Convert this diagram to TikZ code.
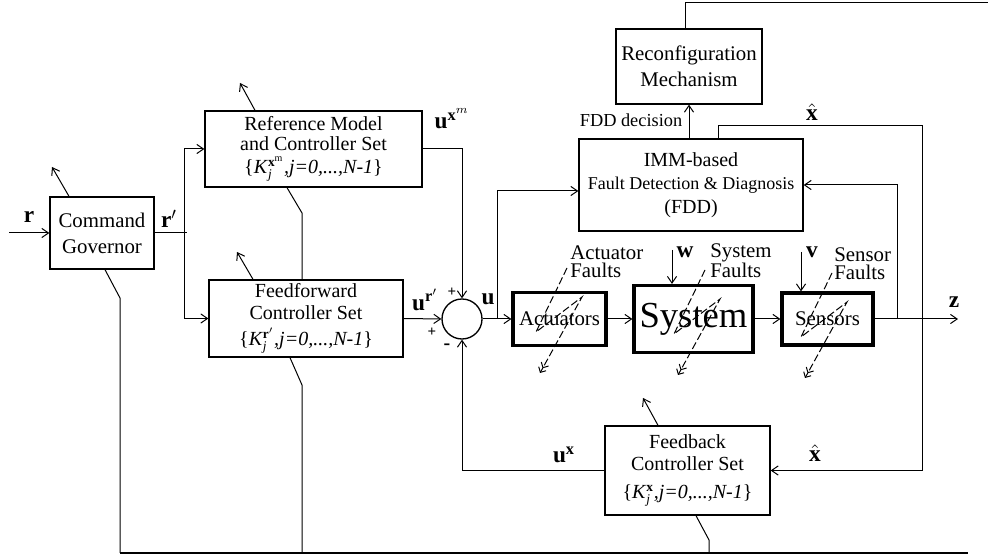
\documentclass[tikz,border=0pt]{standalone}
\usepackage{fontspec}
\setmainfont{Liberation Serif}
\usetikzlibrary{arrows.meta}

\newcommand{\px}{0.6pt}
\newcommand{\kset}[1]{\{\textit{K}$_{\mathit{j}}^{#1}$\textit{,j=0,...,N-1}\}}

\begin{document}
\begin{tikzpicture}[x=\px, y=-\px,
      blk/.style={draw, line width=0.8pt, align=center, inner sep=0pt,
                  font=\fontsize{12}{13}\selectfont},
      hvy/.style={blk, line width=1.9pt, font=\fontsize{12.5}{14}\selectfont},
      sig/.style={line width=0.6pt, -{Straight Barb[length=4pt,width=5.5pt]}},
      wire/.style={line width=0.6pt},
      flt/.style={line width=0.6pt, dash pattern=on 4.5pt off 1.8pt,
                  -{Straight Barb[length=2.5pt,width=5pt] Straight Barb[length=2.5pt,width=5pt]}},
      sgn/.style={font=\fontsize{14}{14}\selectfont, inner sep=0pt},
      note/.style={font=\fontsize{12.5}{10.8}\selectfont, align=left, inner sep=0pt},
      pm/.style={font=\fontsize{9}{9}\selectfont\bfseries, inner sep=0pt}
  ]
  \useasboundingbox (0,0) rectangle (988,557);
  % blocks
  \node[blk, minimum width=104*\px, minimum height=72*\px,
        font=\fontsize{12.5}{15.6}\selectfont] (gov) at (102,233) {Command\\Governor};
  \node[blk, minimum width=217*\px, minimum height=76*\px,
        font=\fontsize{12}{12}\selectfont] (refm) at (313.5,149)
        {Reference Model\\and Controller Set\\[2pt]\kset{\mathbf{x}^{\mathrm{m}}}};
  \node[blk, minimum width=194*\px, minimum height=77*\px] (ff) at (306,318.5)
        {Feedforward\\Controller Set\\[3pt]\kset{\mathbf{r}'}};
  \node[draw, circle, line width=0.8pt, minimum size=40*\px, inner sep=0pt] (sum) at (462,319) {};
  \node[blk, minimum width=224*\px, minimum height=92*\px] (fdd) at (691,185)
        {IMM-based\\[1pt]{\fontsize{10.8}{12}\selectfont Fault Detection \& Diagnosis}\\[1pt](FDD)};
  \node[blk, minimum width=146*\px, minimum height=75*\px,
        font=\fontsize{12.5}{15.6}\selectfont] (reconf) at (689,66.5) {Reconfiguration\\Mechanism};
  \node[hvy, minimum width=93*\px, minimum height=53*\px] (act) at (559.5,319) {Actuators};
  \node[hvy, minimum width=119*\px, minimum height=67*\px,
        font=\fontsize{22}{22}\selectfont] (sys) at (693.5,319) {System};
  \node[hvy, minimum width=91*\px, minimum height=52*\px] (sens) at (827.5,319) {Sensors};
  \node[blk, minimum width=165*\px, minimum height=89*\px] (fb) at (687.5,470.5)
        {Feedback\\Controller Set\\[4pt]\kset{\mathbf{x}}};

  % free ends and bends
  \coordinate (rin) at (9,233);
  \coordinate (rs) at (184,233);
  \coordinate (ub) at (497,319);
  \coordinate (zb) at (897,319);
  \coordinate (zout) at (958,319);
  \coordinate (xhr) at (922,126);
  \coordinate (topr) at (988,3);
  \coordinate (botl) at (120,553);
  \coordinate (botr) at (968,553);
  \coordinate (govk) at (120,298);
  \coordinate (refk) at (302,213);
  \coordinate (ffk) at (302,385);
  \coordinate (fbk) at (709,540);
  \coordinate (govr) at (52,167);
  \coordinate (refr) at (240,83);
  \coordinate (ffr) at (237,252);
  \coordinate (fbr) at (643,398);
  \coordinate (wtop) at (672,250);
  \coordinate (vtop) at (801,252);

  % signal paths
  \draw[sig] (rin) -- (gov);
  \draw[wire] (gov.east) -- ([xshift=3*\px]rs);
  \draw[sig] (rs) |- (refm.west);
  \draw[sig] (rs) |- (ff.west);
  \draw[sig] (refm.east) -| (sum.north);
  \draw[sig] (ff.east) -- (sum.west);
  \draw[sig] (sum.east) -- (act.west);
  \draw[sig] (ub) |- ([yshift=-6*\px]fdd.west);
  \draw[sig] (act) -- (sys);
  \draw[sig] (sys) -- (sens);
  \draw[sig] (sens.east) -- (zout);
  \draw[sig] (zb) |- (fdd.east);
  \draw[sig] ([xshift=27*\px]fdd.north) |- (xhr) |- (fb.east);
  \draw[sig] (fb.west) -| (sum.south);
  \draw[sig] (fdd.north -| reconf.south) -- (reconf.south);
  \draw[wire] ([xshift=-4*\px]reconf.north) |- (topr);
  \draw[sig] (wtop) -- (wtop |- sys.north);
  \draw[sig] (vtop) -- (vtop |- sens.north);

  % switching lines
  \draw[line width=0.8pt] (botl) -- (botr);
  \draw[wire] ([xshift=3*\px]gov.south) -- (govk) -- (botl);
  \draw[wire] ([xshift=-26.5*\px]refm.south) -- (refk) -- (refk |- ff.north);
  \draw[wire] ([xshift=-16*\px]ff.south) -- (ffk) -- (ffk |- botl);
  \draw[wire] ([xshift=8.5*\px]fb.south) -- (fbk) -- (fbk |- botl);
  \draw[sig] ([xshift=-33*\px]gov.north) -- (govr);
  \draw[sig] ([xshift=-58.5*\px]refm.north) -- (refr);
  \draw[sig] ([xshift=-53*\px]ff.north) -- (ffr);
  \draw[sig] ([xshift=-29.5*\px]fb.north) -- (fbr);

  % faults
  \foreach \b/\dx/\dy in {act/7.5/-51, sys/11.5/-49, sens/4.5/-46}
    \draw[flt] ([shift={(\dx,\dy)}]\b.center) -- ++(-31,64) -- ++(46,-35) -- ++(-42,76);

  % labels
  \node[sgn] (lr) at (29,217) {$\mathbf{r}$};
  \node[sgn] (lrp) at (169,219) {$\mathbf{r}'$};
  \node[sgn] (lum) at (452,119) {$\mathbf{u}^{\mathbf{x}^{m}}$};
  \node[sgn] (lur) at (425,300) {$\mathbf{u}^{\mathbf{r}'}$};
  \node[sgn] (lu) at (488,299) {$\mathbf{u}$};
  \node[sgn] (lux) at (564,455) {$\mathbf{u}^{\mathbf{x}}$};
  \node[sgn] (lxa) at (812,112) {$\hat{\mathbf{x}}$};
  \node[sgn] (lxb) at (815,453) {$\hat{\mathbf{x}}$};
  \node[sgn] (lw) at (685,252) {$\mathbf{w}$};
  \node[sgn] (lv) at (812,252) {$\mathbf{v}$};
  \node[sgn] (lz) at (954,302) {$\mathbf{z}$};
  \node[pm] (p1) at (452,292) {+};
  \node[pm] (p2) at (432,332) {+};
  \node[pm, font=\fontsize{12}{12}\selectfont\bfseries] (p3) at (447,347) {-};
  \node[font=\fontsize{11}{11}\selectfont, inner sep=0pt] (ldec) at (631,120) {FDD decision};
  \node[note, anchor=north west] (fa) at (570,245) {Actuator\\Faults};
  \node[note, anchor=north west] (fs) at (710,243) {System\\Faults};
  \node[note, anchor=north west] (fe) at (834,247) {Sensor\\Faults};
\end{tikzpicture}
\end{document}
